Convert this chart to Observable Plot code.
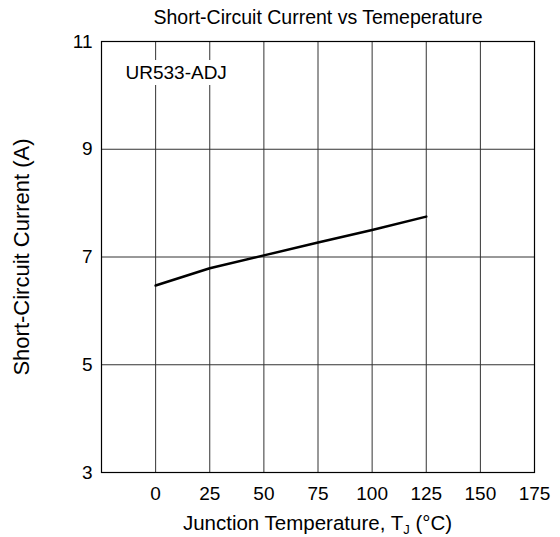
<!DOCTYPE html>
<html>
<head>
<meta charset="utf-8">
<script src="https://cdn.jsdelivr.net/npm/d3@7"></script>
<script src="https://cdn.jsdelivr.net/npm/@observablehq/plot@0.6"></script>
<style>
  html, body { margin: 0; padding: 0; background: white; }
  svg { font-family: "Liberation Sans", Arial, sans-serif; }
</style>
</head>
<body>
<div id="chart"></div>
<script>
const temperature = [0, 25, 50, 75, 100, 125];
const current = [6.47, 6.79, 7.03, 7.27, 7.50, 7.75];
const xTicks = [0, 25, 50, 75, 100, 125, 150, 175];
const yTicks = [3, 5, 7, 9, 11];
const xGrid = [0, 25, 50, 75, 100, 125, 150];
const yGrid = [5, 7, 9];
const title = "Short-Circuit Current vs Temeperature";
const deviceLabel = "UR533-ADJ";
const yLabel = "Short-Circuit Current (A)";

const data = temperature.map((t, i) => ({t, c: current[i]}));
const FS = 19;

const chart = Plot.plot({
  width: 560,
  height: 537,
  marginTop: 41,
  marginBottom: 65,
  marginLeft: 101,
  marginRight: 26,
  style: {fontSize: FS + "px", fontFamily: "'Liberation Sans', Arial, sans-serif", color: "black", background: "white"},
  x: {domain: [-25, 175], label: null},
  y: {domain: [3, 11], label: null},
  marks: [
    Plot.ruleX(xGrid, {stroke: "#333", strokeWidth: 1}),
    Plot.ruleY(yGrid, {stroke: "#333", strokeWidth: 1}),
    Plot.text([deviceLabel], {frameAnchor: "top-left", dx: 24, dy: 31, lineAnchor: "middle", text: d => d, textAnchor: "start", fontSize: FS, fill: "black", stroke: "white", strokeWidth: 12, strokeLinejoin: "miter"}),
    Plot.frame({stroke: "black", strokeWidth: 1.2}),
    Plot.line(data, {x: "t", y: "c", stroke: "black", strokeWidth: 2.5}),
    Plot.axisX({ticks: xTicks, tickSize: 0, tickPadding: 14, label: null, fontSize: FS}),
    Plot.axisY({ticks: yTicks, tickSize: 0, tickPadding: 9, label: null, fontSize: FS}),
    Plot.text([title], {frameAnchor: "top", dy: -24, lineAnchor: "middle", textAnchor: "middle", text: d => d, fontSize: 19.5, fill: "black"}),
    Plot.text([yLabel], {frameAnchor: "left", dx: -80, lineAnchor: "middle", textAnchor: "middle", rotate: -90, text: d => d, fontSize: 22, fill: "black"})
  ]
});

// x-axis label with subscript J
const svg = d3.select(chart);
const xl = svg.append("text")
  .attr("x", 101 + (560 - 101 - 26) / 2)
  .attr("y", 530)
  .attr("text-anchor", "middle")
  .attr("font-size", 20.5)
  .attr("fill", "black");
xl.append("tspan").text("Junction Temperature, T");
xl.append("tspan").attr("font-size", 13).attr("dy", 4).text("J");
xl.append("tspan").attr("dy", -4).text(" (°C)");

document.getElementById("chart").appendChild(chart);
</script>
</body>
</html>
